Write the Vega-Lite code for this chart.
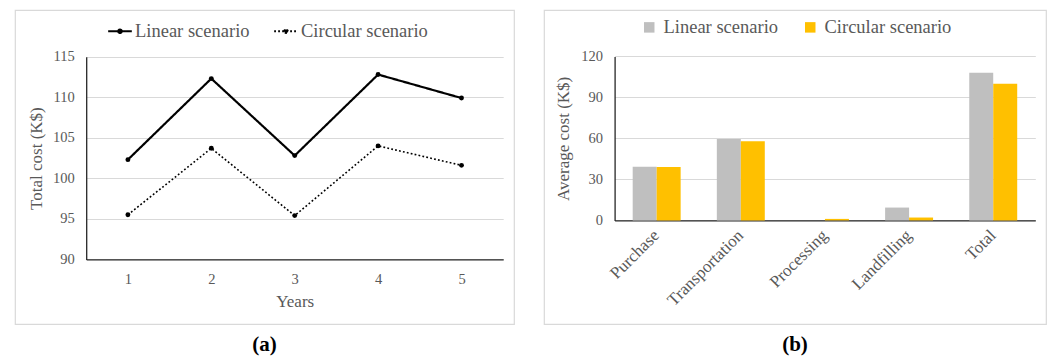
{
  "$schema": "https://vega.github.io/schema/vega-lite/v6.json",
  "background": "white",
  "padding": {"left": 14, "top": 9, "right": 4, "bottom": 0},
  "spacing": 28,
  "resolve": {
    "scale": {"color": "independent", "strokeDash": "independent", "x": "independent", "y": "independent"},
    "legend": {"color": "independent", "strokeDash": "independent"}
  },
  "config": {
    "font": "Liberation Serif",
    "view": {"stroke": "#D9D9D9", "strokeWidth": 1.2},
    "axis": {
      "labelFont": "Liberation Serif",
      "titleFont": "Liberation Serif",
      "labelColor": "#595959",
      "titleColor": "#595959",
      "labelFontSize": 14.5,
      "titleFontSize": 17,
      "titleFontWeight": "normal",
      "ticks": false,
      "domainColor": "#262626",
      "domainWidth": 1.3,
      "gridColor": "#D9D9D9",
      "gridWidth": 1
    },
    "legend": {
      "labelFont": "Liberation Serif",
      "labelFontSize": 18.5,
      "labelColor": "#595959",
      "title": null
    },
    "title": {"font": "Liberation Serif", "fontSize": 21, "fontWeight": "bold", "color": "#000000"}
  },
  "hconcat": [
    {
      "width": 499,
      "height": 314,
      "title": {"text": "(a)", "orient": "bottom", "anchor": "middle", "offset": 10},
      "data": {
        "values": [
          {"year": "1", "series": "Linear scenario", "cost": 102.3},
          {"year": "2", "series": "Linear scenario", "cost": 112.3},
          {"year": "3", "series": "Linear scenario", "cost": 102.8},
          {"year": "4", "series": "Linear scenario", "cost": 112.8},
          {"year": "5", "series": "Linear scenario", "cost": 109.9},
          {"year": "1", "series": "Circular scenario", "cost": 95.5},
          {"year": "2", "series": "Circular scenario", "cost": 103.7},
          {"year": "3", "series": "Circular scenario", "cost": 95.4},
          {"year": "4", "series": "Circular scenario", "cost": 104.0},
          {"year": "5", "series": "Circular scenario", "cost": 101.6}
        ]
      },
      "encoding": {
        "x": {
          "field": "year",
          "type": "ordinal",
          "scale": {"type": "point", "range": [71.2, 488.2], "padding": 0.5},
          "axis": {"title": "Years", "labelAngle": 0, "offset": -64.6, "labelPadding": 13, "titlePadding": 8}
        },
        "y": {
          "field": "cost",
          "type": "quantitative",
          "scale": {"domain": [90, 115], "range": [249.4, 46.7], "zero": false, "nice": false},
          "axis": {"title": "Total cost (K$)", "values": [90, 95, 100, 105, 110, 115], "offset": -71.2, "labelPadding": 12, "titlePadding": 7}
        }
      },
      "layer": [
        {
          "mark": {"type": "line", "color": "#000000"},
          "encoding": {
            "strokeDash": {
              "field": "series",
              "type": "nominal",
              "sort": ["Linear scenario", "Circular scenario"],
              "scale": {"domain": ["Linear scenario", "Circular scenario"], "range": [[1, 0], [1.8, 2.2]]},
              "legend": {
                "orient": "none",
                "direction": "horizontal",
                "legendX": 92,
                "legendY": 8,
                "labelFont": "Liberation Serif",
                "labelFontSize": 18.5,
                "labelColor": "#595959",
                "symbolType": "M-1,0H1M-0.16,0A0.16,0.16,0,1,1,0.16,0A0.16,0.16,0,1,1,-0.16,0",
                "symbolSize": 560,
                "symbolStrokeWidth": 1.8,
                "symbolStrokeColor": "#000000",
                "symbolFillColor": "#000000",
                "columnPadding": 20,
                "labelOffset": 2
              }
            },
            "strokeWidth": {
              "field": "series",
              "type": "nominal",
              "scale": {"domain": ["Linear scenario", "Circular scenario"], "range": [2.2, 1.6]},
              "legend": null
            }
          }
        },
        {
          "mark": {"type": "point", "filled": true, "color": "#000000", "opacity": 1, "size": 24},
          "encoding": {"detail": {"field": "series"}}
        }
      ]
    },
    {
      "width": 502,
      "height": 314,
      "title": {"text": "(b)", "orient": "bottom", "anchor": "middle", "offset": 10},
      "data": {
        "values": [
          {"category": "Purchase", "series": "Linear scenario", "cost": 39.3},
          {"category": "Purchase", "series": "Circular scenario", "cost": 39.0},
          {"category": "Transportation", "series": "Linear scenario", "cost": 59.5},
          {"category": "Transportation", "series": "Circular scenario", "cost": 58.0},
          {"category": "Processing", "series": "Linear scenario", "cost": 0},
          {"category": "Processing", "series": "Circular scenario", "cost": 1.1},
          {"category": "Landfilling", "series": "Linear scenario", "cost": 9.4},
          {"category": "Landfilling", "series": "Circular scenario", "cost": 2.1},
          {"category": "Total", "series": "Linear scenario", "cost": 108.0},
          {"category": "Total", "series": "Circular scenario", "cost": 100.0}
        ]
      },
      "mark": {"type": "bar"},
      "encoding": {
        "x": {
          "field": "category",
          "type": "nominal",
          "sort": ["Purchase", "Transportation", "Processing", "Landfilling", "Total"],
          "scale": {"range": [70.6, 491.3], "paddingInner": 0.43, "paddingOuter": 0.215},
          "axis": {"title": null, "labelAngle": -45, "labelAlign": "right", "labelBaseline": "middle", "labelFontSize": 17, "offset": -103.6, "labelPadding": 12}
        },
        "xOffset": {
          "field": "series",
          "type": "nominal",
          "sort": ["Linear scenario", "Circular scenario"],
          "scale": {"paddingInner": 0, "paddingOuter": 0}
        },
        "y": {
          "field": "cost",
          "type": "quantitative",
          "scale": {"domain": [0, 120], "range": [210.4, 46.4], "nice": false},
          "axis": {"title": "Average cost (K$)", "values": [0, 30, 60, 90, 120], "offset": -70.6, "labelPadding": 12, "titlePadding": 8}
        },
        "color": {
          "field": "series",
          "type": "nominal",
          "sort": ["Linear scenario", "Circular scenario"],
          "scale": {"domain": ["Linear scenario", "Circular scenario"], "range": ["#BFBFBF", "#FFC000"]},
          "legend": {
            "orient": "none",
            "direction": "horizontal",
            "legendX": 96,
            "legendY": 8,
            "labelFont": "Liberation Serif",
            "labelFontSize": 18.5,
            "labelColor": "#595959",
            "symbolType": "square",
            "symbolSize": 110,
            "symbolStrokeWidth": 0,
            "columnPadding": 22,
            "labelOffset": 5
          }
        }
      }
    }
  ]
}
